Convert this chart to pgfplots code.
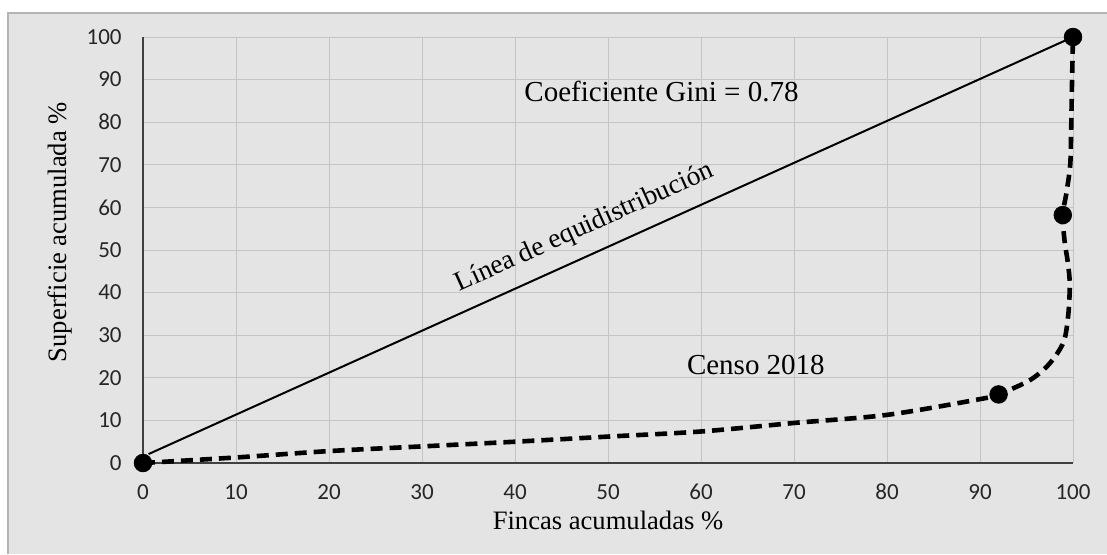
\documentclass[border=0pt]{standalone}
\usepackage{pgfplots}
\pgfplotsset{compat=1.18}
\usepackage{fontspec}
\setmainfont{Liberation Serif}
\newfontfamily\carlito{Carlito}
\definecolor{bgc}{HTML}{E4E4E4}
\definecolor{borderc}{HTML}{B4B4B4}
\definecolor{gridc}{HTML}{C4C4C4}
\definecolor{axc}{HTML}{404040}
\begin{document}
\begin{tikzpicture}
\useasboundingbox (-71.5pt,-45.5pt) rectangle (482pt,231.5pt);
\fill[bgc] (-67.5pt,-45.5pt) rectangle (482pt,225pt);
\draw[borderc, line width=1pt] (-67.5pt,-45.5pt) -- (-67.5pt,225pt) -- (482pt,225pt);
\begin{axis}[
  at={(0pt,0pt)}, anchor=south west,
  scale only axis, width=465pt, height=213pt,
  xmin=0, xmax=100, ymin=0, ymax=100,
  xtick={0,10,...,100}, ytick={0,10,...,100},
  axis x line=bottom, axis y line=left,
  axis line style={-, axc, line width=0.6pt},
  major tick length=0pt,
  grid=major, major grid style={gridc, line width=0.5pt},
  clip=false,
  /pgf/number format/assume math mode=true,
  ticklabel style={font=\carlito\fontsize{11.5}{13}\selectfont, text=black!85},
  xticklabel style={anchor=center, inner sep=0pt, yshift=-14.5pt},
  yticklabel style={anchor=east, inner sep=0pt, xshift=-10.5pt},
  xlabel={Fincas acumuladas \%},
  ylabel={Superficie acumulada \%},
  label style={font=\fontsize{13.3}{15}\selectfont},
  xlabel style={at={(axis description cs:0.5,-0.134)}, anchor=center},
  ylabel style={at={(axis description cs:-0.0892,0.542)}, anchor=center, rotate=0},
]
\addplot[black, line width=1pt] coordinates {(0.6,2.1) (100,100)};
\addplot[black, line width=2.3pt, dash pattern=on 6pt off 3.5pt, smooth, tension=0.5] coordinates {
(0,0) (10,1.3) (20,2.8) (30,3.9) (40,5.0) (50,6.2) (60,7.4) (70,9.4) (80,11.3) (90,15.0) (92,16.1)
(95.4,19.5) (97.5,23.4) (99,28.5) (99.5,35) (99.65,42) (99.45,47) (99.1,52) (98.9,58.2)
(99.3,63.5) (99.7,70) (99.8,78) (99.9,90) (100,100)};
\addplot[only marks, mark=*, mark size=4.4pt, black] coordinates {(0,0) (92,16.1) (98.9,58.2) (100,100)};
\node[font=\fontsize{14.5}{16}\selectfont] at (axis cs:55.75,87.2) {Coeficiente Gini = 0.78};
\node[font=\fontsize{14.5}{16}\selectfont] at (axis cs:65.9,23) {Censo 2018};
\node[font=\fontsize{13.7}{16}\selectfont, rotate=24.3] at (axis cs:47.5,55.2) {Línea de equidistribución};
\end{axis}
\end{tikzpicture}
\end{document}
